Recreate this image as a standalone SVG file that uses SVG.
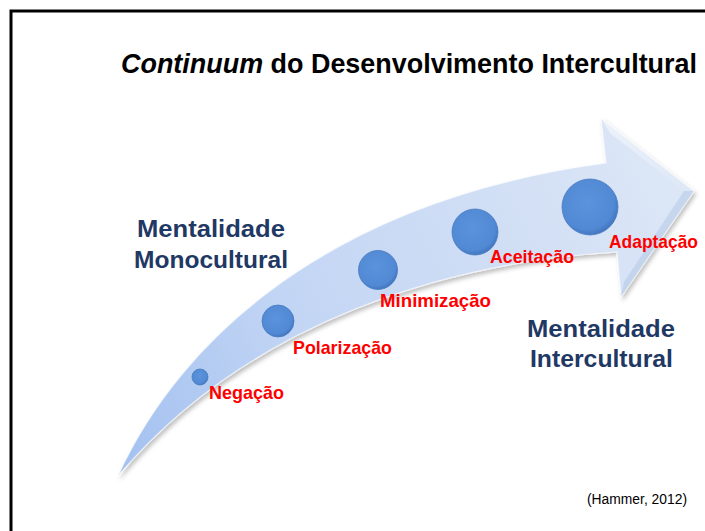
<svg xmlns="http://www.w3.org/2000/svg" width="705" height="531" viewBox="0 0 705 531">
<style>
.title{font-family:"Liberation Sans",Arial,sans-serif;font-weight:bold;font-size:27px;fill:#000}
.mind{font-family:"Liberation Sans",Arial,sans-serif;font-weight:bold;font-size:23px;fill:#1f3864}
.stage{font-family:"Liberation Sans",Arial,sans-serif;font-weight:bold;font-size:19px;fill:#ff0000}
.ref{font-family:"Liberation Sans",Arial,sans-serif;font-size:14px;fill:#000}
.dot{fill:url(#dotGrad);stroke:#4a7cc0;stroke-width:0.8}
</style>
<defs>
<linearGradient id="arrowGrad" x1="118" y1="476" x2="694" y2="190" gradientUnits="userSpaceOnUse">
<stop offset="0" stop-color="#a2c0f0"/>
<stop offset="0.35" stop-color="#c2d5f4"/>
<stop offset="1" stop-color="#dde7f6"/>
</linearGradient>
<linearGradient id="bevel" x1="0" y1="0" x2="1" y2="1">
<stop offset="0" stop-color="#ffffff" stop-opacity="0.55"/>
<stop offset="1" stop-color="#ffffff" stop-opacity="0"/>
</linearGradient>
<radialGradient id="dotGrad" cx="0.45" cy="0.42" r="0.6">
<stop offset="0" stop-color="#5c93dc"/>
<stop offset="0.8" stop-color="#5189d4"/>
<stop offset="1" stop-color="#4073bc"/>
</radialGradient>
<filter id="shadow" x="-10%" y="-10%" width="120%" height="130%">
<feDropShadow dx="2" dy="3" stdDeviation="2" flood-color="#000" flood-opacity="0.25"/>
</filter>
</defs>
<rect width="705" height="531" fill="#fff"/>
<g id="frame" stroke="#000" stroke-width="3" fill="none">
<path d="M11,531 L11,11 L705,11"/>
</g>
<g id="title">
<text class="title" x="121" y="73" textLength="576" lengthAdjust="spacingAndGlyphs"><tspan font-style="italic">Continuum</tspan> do Desenvolvimento Intercultural</text>
</g>
<g id="connectors">
<path id="arrow" filter="url(#shadow)" fill="url(#arrowGrad)" stroke="#ffffff" stroke-opacity="0.6" stroke-width="1.2" d="M118,476 C180,340 330,200 606,163 L601,118 L694,191 L621,297 L617,252 C450,262 250,320 118,476 Z"/>
<path fill="url(#bevel)" d="M601,118 L694,191 L684,191 L610,133 Z"/>
<path fill="#9fb6dc" fill-opacity="0.35" d="M694,191 L621,297 L624,282 L684,191 Z"/>
</g>
<g id="mono">
<text class="mind" x="137" y="237" textLength="148" lengthAdjust="spacingAndGlyphs">Mentalidade</text>
<text class="mind" x="134" y="268" textLength="154" lengthAdjust="spacingAndGlyphs">Monocultural</text>
</g>
<g id="inter">
<text class="mind" x="527" y="337" textLength="148" lengthAdjust="spacingAndGlyphs">Mentalidade</text>
<text class="mind" x="530" y="367" textLength="143" lengthAdjust="spacingAndGlyphs">Intercultural</text>
</g>
<g id="negacao">
<circle class="dot" cx="200" cy="377" r="8"/>
<text class="stage" x="209" y="399" textLength="75" lengthAdjust="spacingAndGlyphs">Negação</text>
</g>
<g id="polarizacao">
<circle class="dot" cx="278" cy="321" r="16"/>
<text class="stage" x="293" y="354" textLength="99" lengthAdjust="spacingAndGlyphs">Polarização</text>
</g>
<g id="minimizacao">
<circle class="dot" cx="378" cy="270" r="19.5"/>
<text class="stage" x="380" y="307" textLength="111" lengthAdjust="spacingAndGlyphs">Minimização</text>
</g>
<g id="aceitacao">
<circle class="dot" cx="475" cy="232" r="23"/>
<text class="stage" x="490" y="263" textLength="84" lengthAdjust="spacingAndGlyphs">Aceitação</text>
</g>
<g id="adaptacao">
<circle class="dot" cx="590" cy="207" r="28"/>
<text class="stage" x="609" y="248" textLength="89" lengthAdjust="spacingAndGlyphs">Adaptação</text>
</g>
<g id="reference">
<text class="ref" x="587" y="504" textLength="100" lengthAdjust="spacingAndGlyphs">(Hammer, 2012)</text>
</g>
</svg>
